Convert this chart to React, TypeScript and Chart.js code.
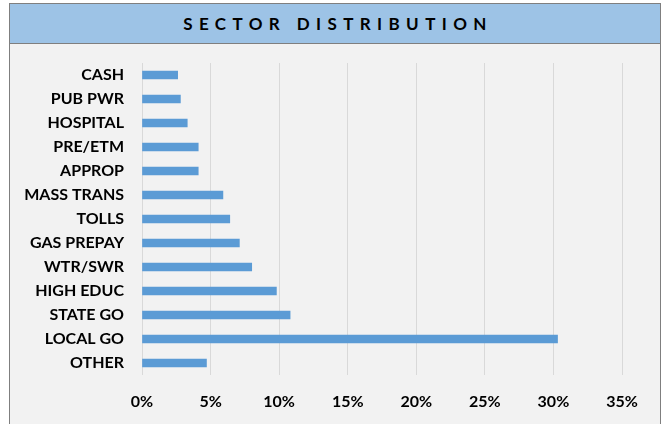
import React, { useEffect, useRef } from "react";
import { Chart, registerables } from "chart.js";

Chart.register(...registerables);

const title = "SECTOR DISTRIBUTION";
const categories = [
  "CASH",
  "PUB PWR",
  "HOSPITAL",
  "PRE/ETM",
  "APPROP",
  "MASS TRANS",
  "TOLLS",
  "GAS PREPAY",
  "WTR/SWR",
  "HIGH EDUC",
  "STATE GO",
  "LOCAL GO",
  "OTHER",
];
const values = [2.6, 2.8, 3.3, 4.1, 4.1, 5.9, 6.4, 7.1, 8.0, 9.8, 10.8, 30.3, 4.7];
const xMin = 0;
const xMax = 35;
const xStep = 5;

const FONT = "Lato, 'Open Sans', sans-serif";

export default function App() {
  const ref = useRef<HTMLCanvasElement | null>(null);

  useEffect(() => {
    if (!ref.current) return;
    const chart = new Chart(ref.current, {
      type: "bar",
      data: {
        labels: categories,
        datasets: [
          {
            data: values,
            backgroundColor: "#5B9BD5",
            borderWidth: 0,
            barThickness: 8,
          },
        ],
      },
      options: {
        indexAxis: "y",
        animation: false,
        responsive: false,
        events: [],
        layout: { padding: { top: 19, right: 38, bottom: 0, left: 0 } },
        plugins: {
          legend: { display: false },
          title: { display: false },
          tooltip: { enabled: false },
        },
        scales: {
          x: {
            min: xMin,
            max: xMax,
            grid: { color: "#D9D9D9", lineWidth: 1, drawTicks: false },
            border: { display: false },
            ticks: {
              stepSize: xStep,
              padding: 17,
              color: "#000000",
              font: { family: FONT, size: 16, weight: "bold" },
              callback: (v: any) => `${v}%`,
            },
            afterFit: (s: any) => {
              s.height = 49;
              s.paddingLeft = 0;
              s.paddingRight = 0;
            },
          },
          y: {
            grid: { display: false, drawTicks: false },
            border: { display: false },
            ticks: {
              padding: 18,
              color: "#000000",
              font: { family: FONT, size: 16, weight: "bold" },
            },
            afterFit: (s: any) => {
              s.width = 132;
              s.paddingTop = 0;
              s.paddingBottom = 0;
            },
          },
        },
      },
    });
    return () => chart.destroy();
  }, []);

  return (
    <div
      style={{
        position: "absolute",
        left: 9,
        top: 3,
        width: 650,
        height: 421,
        borderLeft: "1px solid #7F7F7F",
        borderRight: "1px solid #7F7F7F",
        borderTop: "1px solid #7F7F7F",
        background: "#F2F2F2",
        overflow: "hidden",
      }}
    >
      <div
        style={{
          height: 39,
          borderBottom: "1px solid #7F7F7F",
          background: "#9DC3E6",
          display: "flex",
          alignItems: "center",
          justifyContent: "center",
          fontFamily: FONT,
          fontWeight: "bold",
          fontSize: 17,
          letterSpacing: 6.4,
          paddingLeft: 6,
          color: "#000000",
        }}
      >
        {title}
      </div>
      <canvas ref={ref} width={650} height={380} style={{ display: "block" }} />
    </div>
  );
}
